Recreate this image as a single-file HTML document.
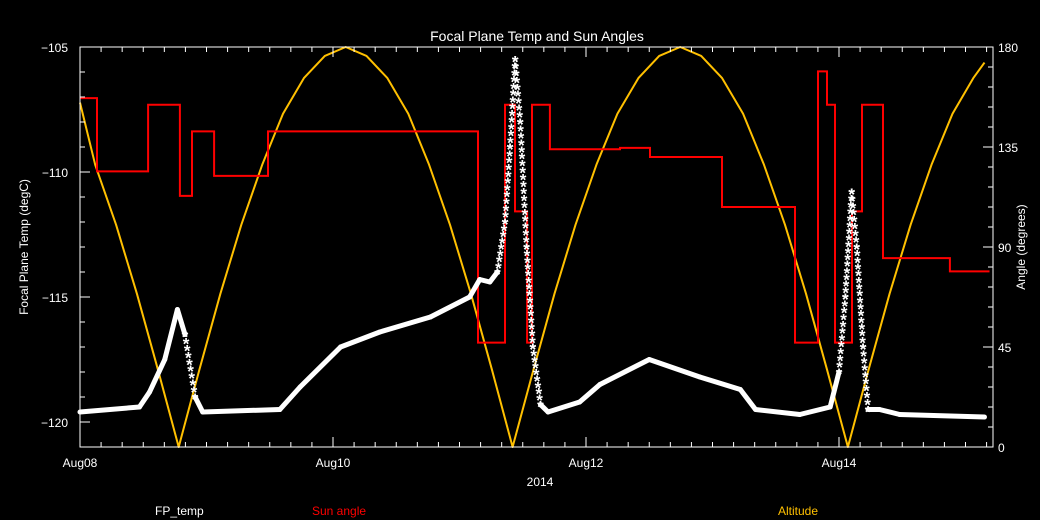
<!DOCTYPE html>
<html><head><meta charset="utf-8"><style>
body{margin:0;background:#000}
svg{display:block;font-family:"Liberation Sans","DejaVu Sans",sans-serif}
</style></head><body>
<svg id="chart" width="1040" height="520">
<rect width="1040" height="520" fill="#000"/>
<text x="537" y="41" fill="#fff" font-size="14" text-anchor="middle">Focal Plane Temp and Sun Angles</text>
<text x="28" y="247" fill="#fff" font-size="12" text-anchor="middle" transform="rotate(-90 28 247)">Focal Plane Temp (degC)</text>
<text x="1025" y="247" fill="#fff" font-size="12" text-anchor="middle" transform="rotate(-90 1025 247)">Angle (degrees)</text>
<text x="540" y="486" fill="#fff" font-size="12" text-anchor="middle">2014</text>
<text x="155" y="515" fill="#fff" font-size="12">FP_temp</text>
<text x="312" y="515" fill="#f00" font-size="12">Sun angle</text>
<text x="778" y="515" fill="#ffc000" font-size="12">Altitude</text>
<g id="marks"></g>
<g id="axes"></g>
</svg>
<script>
const xTickLabels=["Aug08","Aug10","Aug12","Aug14"];
const xTickDays=[0,2,4,6];
const leftTicks=[-105,-110,-115,-120];
const rightTicks=[180,135,90,45,0];
const tempDays=[0,0.47,0.55,0.67,0.77,0.83,0.91,0.97,1.58,1.74,2.06,2.37,2.77,3.08,3.16,3.24,3.3,3.36,3.4,3.44,3.48,3.53,3.58,3.64,3.7,3.95,4.11,4.5,4.9,5.22,5.34,5.69,5.93,6.0,6.05,6.1,6.14,6.19,6.23,6.32,6.48,7.15];
const tempVals=[-119.6,-119.4,-118.8,-117.5,-115.5,-116.5,-119.0,-119.6,-119.5,-118.6,-117.0,-116.4,-115.8,-115.0,-114.3,-114.4,-114.0,-112.0,-109,-105.5,-108,-113,-117,-119.3,-119.6,-119.2,-118.5,-117.5,-118.2,-118.7,-119.5,-119.7,-119.4,-118,-115,-110.8,-113,-117,-119.5,-119.5,-119.7,-119.8];
const sunDays=[0,0.134,0.538,0.79,0.885,1.06,1.486,3.146,3.36,3.439,3.534,3.573,3.715,4.269,4.506,5.075,5.652,5.834,5.905,5.968,6.103,6.182,6.348,6.877,7.19];
const sunVals=[157,124,154,113,142,122,142,47,154,106,47,154,134,134.6,130.5,108,47,169,154,47,106,154,85,79,79];
const altDays=[0,0.12,0.285,0.45,0.615,0.78,0.945,1.11,1.275,1.44,1.605,1.77,1.935,2.1,2.265,2.43,2.595,2.76,2.925,3.09,3.255,3.42,3.586,3.751,3.917,4.082,4.248,4.414,4.579,4.745,4.911,5.076,5.242,5.407,5.573,5.739,5.904,6.07,6.235,6.4,6.566,6.731,6.897,7.062,7.15];
const altVals=[155,127,100,69,35,0,35,69,100,127,150,166,176,180,176,166,150,127,100,69,35,0,35,69,100,127,150,166,176,180,176,166,150,127,100,69,35,0,35,69,100,127,150,166,173];
const X0=80,X1=993,Y0=47,Y1=447;
const xs=d=>X0+d*126.5;
const yL=v=>Y0+(-105-v)*25;
const yR=a=>Y1-a*(Y1-Y0)/180;
const NS="http://www.w3.org/2000/svg";
const marks=document.getElementById('marks'),axes=document.getElementById('axes');
function mk(tag,parent,attrs){const e=document.createElementNS(NS,tag);for(const k in attrs)e.setAttribute(k,attrs[k]);parent.appendChild(e);return e;}
let p=altDays.map((d,i)=>xs(d).toFixed(1)+','+yR(altVals[i]).toFixed(1)).join(' ');
let alt=mk('polyline',marks,{points:p,fill:'none',stroke:'#ffc000','stroke-width':2,'stroke-linejoin':'round'});


let sp=[];for(let i=0;i<sunDays.length;i++){if(i>0)sp.push(xs(sunDays[i]).toFixed(1)+','+yR(sunVals[i-1]).toFixed(1));sp.push(xs(sunDays[i]).toFixed(1)+','+yR(sunVals[i]).toFixed(1));}
let sun=mk('polyline',marks,{points:sp.join(' '),fill:'none',stroke:'#f00','stroke-width':2});


const tg=mk('g',marks,{});


for(let i=1;i<tempDays.length;i++){
  const xa=xs(tempDays[i-1]),ya=yL(tempVals[i-1]),xb=xs(tempDays[i]),yb=yL(tempVals[i]);
  const steep=Math.abs(yb-ya)/Math.max(1,Math.abs(xb-xa))>6;
  if(!steep){mk('line',tg,{x1:xa,y1:ya,x2:xb,y2:yb,stroke:'#fff','stroke-width':5,'stroke-linecap':'round'});}
  else{const n=Math.ceil(Math.abs(yb-ya)/7);for(let k=0;k<=n;k++){const t=k/n;const s=mk('text',tg,{x:xa+(xb-xa)*t,y:ya+(yb-ya)*t+8,fill:'#fff','font-size':17,'font-weight':'bold','text-anchor':'middle'});s.textContent='*';}}
}
let box=mk('rect',axes,{x:X0,y:Y0,width:X1-X0,height:Y1-Y0,fill:'none',stroke:'#fff','stroke-width':1});


for(let d=0;d<=7.2;d+=1/6){const x=xs(d);if(x>X1)break;const major=Math.abs(d-Math.round(d/2)*2)<1e-6;const L=major?10:5;
mk('line',axes,{x1:x,x2:x,y1:Y1,y2:Y1-L,stroke:'#fff'});mk('line',axes,{x1:x,x2:x,y1:Y0,y2:Y0+L,stroke:'#fff'});}
xTickDays.forEach((d,i)=>{const t=mk('text',axes,{x:xs(d),y:467,fill:'#fff','font-size':12,'text-anchor':'middle'});t.textContent=xTickLabels[i];

});
for(let v=-105;v>=-121;v--){const y=yL(v);const major=v%5===0;mk('line',axes,{x1:X0,x2:X0+(major?10:5),y1:y,y2:y,stroke:'#fff'});}
leftTicks.forEach(v=>{const t=mk('text',axes,{x:68,y:yL(v)+5,fill:'#fff','font-size':12,'text-anchor':'end'});t.textContent=String(v).replace('-','\u2212');

});
for(let a=0;a<=180;a+=9){const y=yR(a);const major=a%45===0;mk('line',axes,{x1:X1,x2:X1-(major?10:5),y1:y,y2:y,stroke:'#fff'});}
rightTicks.forEach(a=>{const t=mk('text',axes,{x:998,y:yR(a)+5,fill:'#fff','font-size':12});t.textContent=a;

});
</script>
</body></html>
